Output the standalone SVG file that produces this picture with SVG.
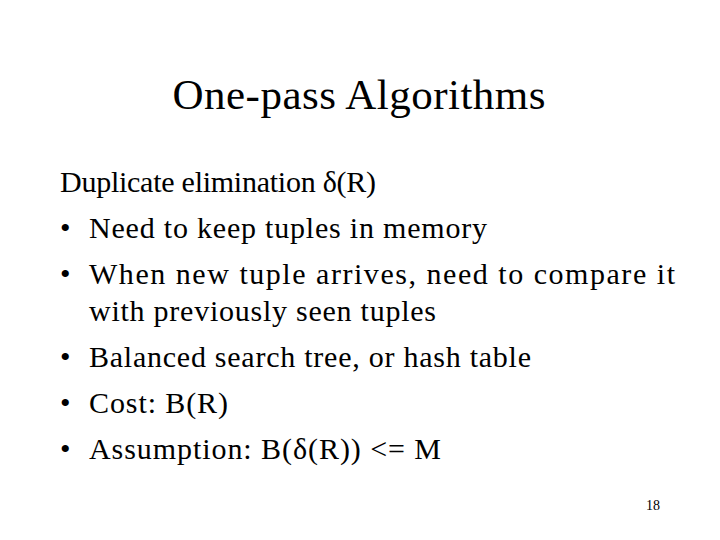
<svg xmlns="http://www.w3.org/2000/svg" width="720" height="540" viewBox="0 0 720 540">
<style>text{font-family:"Liberation Serif",serif;fill:#000}.b{font-size:30px}</style>
<rect width="720" height="540" fill="#fff"/>
<text x="359" y="109" font-size="43" text-anchor="middle" textLength="373" lengthAdjust="spacing">One-pass Algorithms</text>
<text class="b" x="60" y="192" textLength="316" lengthAdjust="spacing">Duplicate elimination δ(R)</text>
<text class="b" x="60" y="238">•</text><text class="b" x="89" y="238" textLength="398" lengthAdjust="spacing">Need to keep tuples in memory</text>
<text class="b" x="60" y="284">•</text><text class="b" x="89" y="284" textLength="586" lengthAdjust="spacing">When new tuple arrives, need to compare it</text>
<text class="b" x="89" y="321" textLength="347" lengthAdjust="spacing">with previously seen tuples</text>
<text class="b" x="60" y="367">•</text><text class="b" x="89" y="367" textLength="442" lengthAdjust="spacing">Balanced search tree, or hash table</text>
<text class="b" x="60" y="413">•</text><text class="b" x="89" y="413" textLength="139" lengthAdjust="spacing">Cost: B(R)</text>
<text class="b" x="60" y="459">•</text><text class="b" x="89" y="459" textLength="352" lengthAdjust="spacing">Assumption: B(δ(R)) &lt;= M</text>
<text x="660" y="510" font-size="14" text-anchor="end">18</text>
</svg>
